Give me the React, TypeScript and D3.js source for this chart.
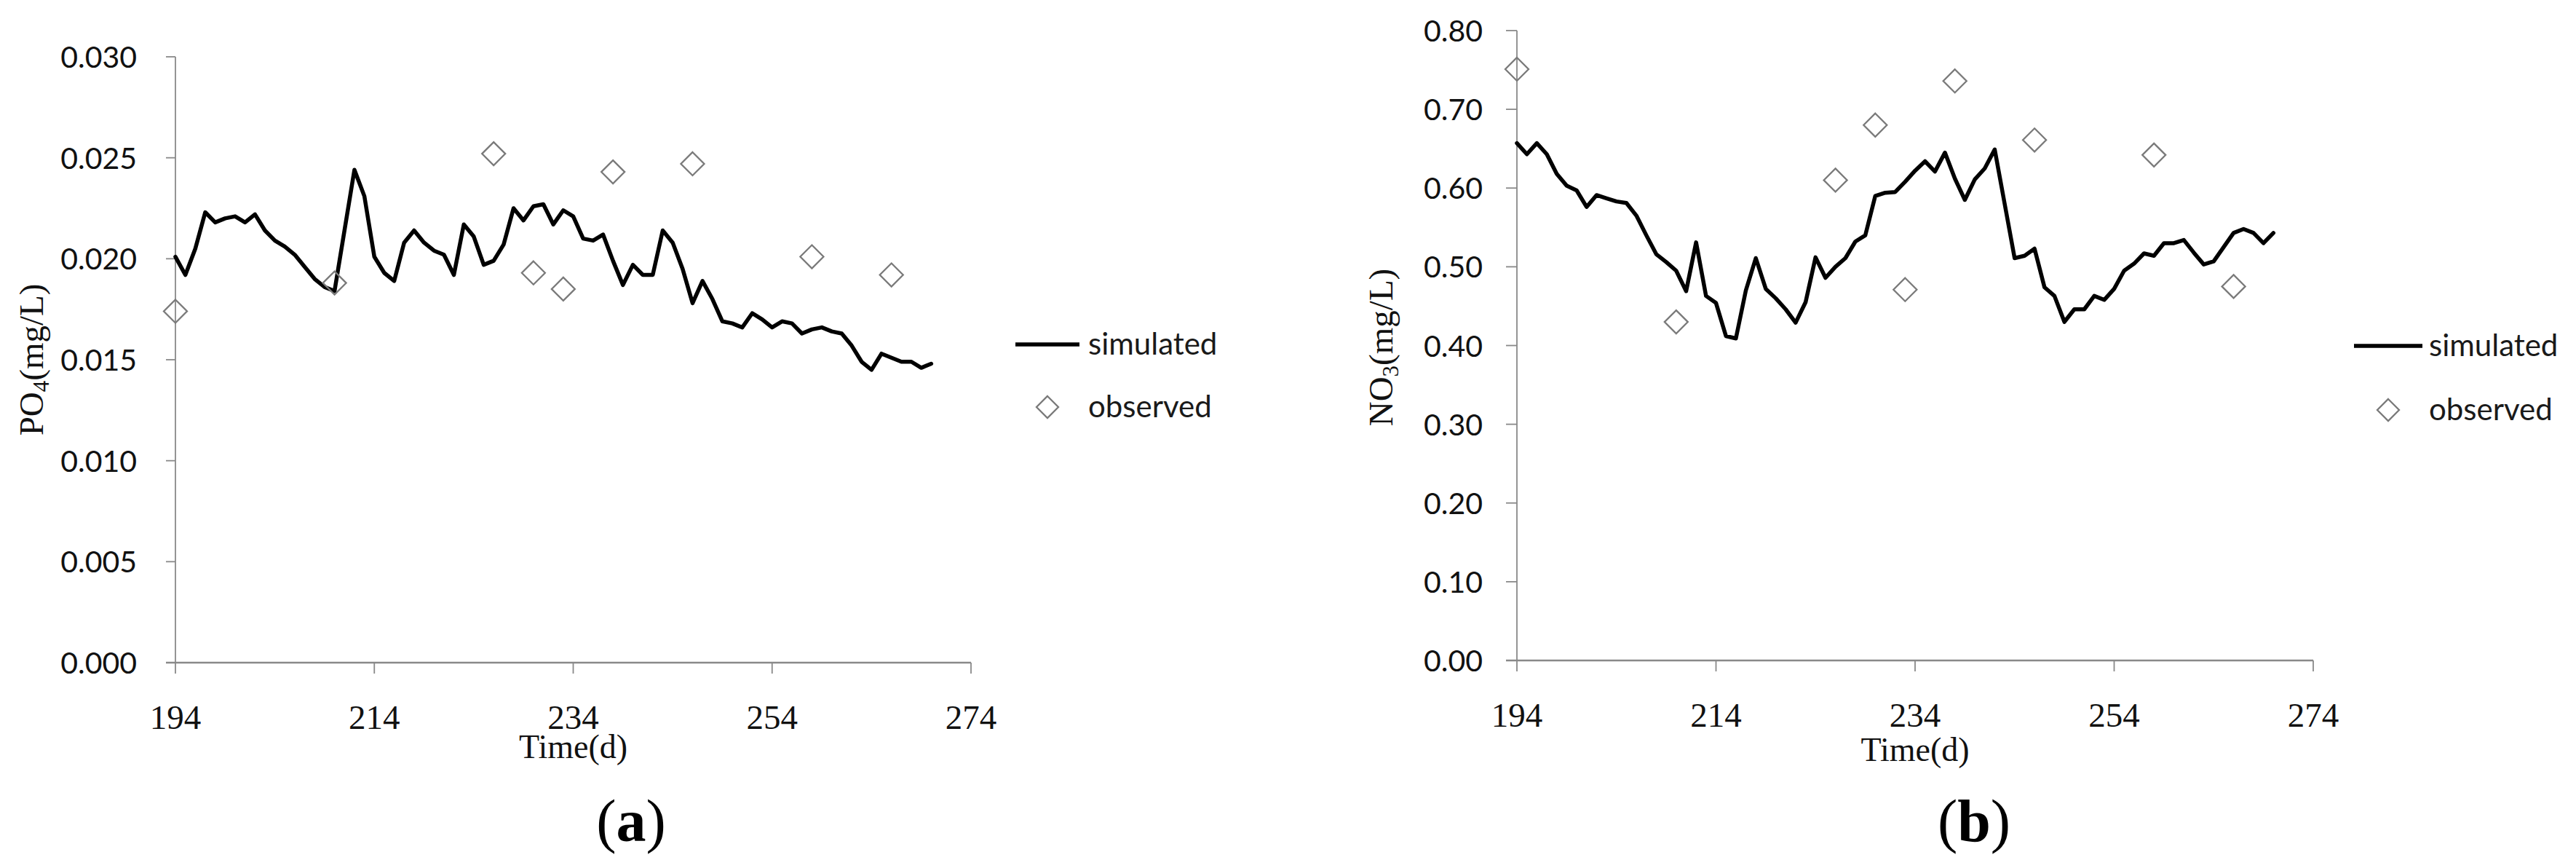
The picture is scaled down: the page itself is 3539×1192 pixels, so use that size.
import React from 'react';
import * as d3 from 'd3';

const simDays = [194,195,196,197,198,199,200,201,202,203,204,205,206,207,208,209,210,211,212,213,214,215,216,217,218,219,220,221,222,223,224,225,226,227,228,229,230,231,232,233,234,235,236,237,238,239,240,241,242,243,244,245,246,247,248,249,250,251,252,253,254,255,256,257,258,259,260,261,262,263,264,265,266,267,268,269,270];

const po4Sim = [0.0201,0.0192,0.0205,0.0223,0.0218,0.0220,0.0221,0.0218,0.0222,0.0214,0.0209,0.0206,0.0202,0.0196,0.0190,0.0186,0.0184,0.0214,0.0244,0.0231,0.0201,0.0193,0.0189,0.0208,0.0214,0.0208,0.0204,0.0202,0.0192,0.0217,0.0211,0.0197,0.0199,0.0207,0.0225,0.0219,0.0226,0.0227,0.0217,0.0224,0.0221,0.0210,0.0209,0.0212,0.0199,0.0187,0.0197,0.0192,0.0192,0.0214,0.0208,0.0195,0.0178,0.0189,0.0180,0.0169,0.0168,0.0166,0.0173,0.0170,0.0166,0.0169,0.0168,0.0163,0.0165,0.0166,0.0164,0.0163,0.0157,0.0149,0.0145,0.0153,0.0151,0.0149,0.0149,0.0146,0.0148];

const no3Sim = [0.657,0.643,0.657,0.643,0.618,0.603,0.597,0.576,0.591,0.587,0.583,0.581,0.565,0.540,0.516,0.506,0.495,0.469,0.531,0.463,0.454,0.412,0.409,0.470,0.511,0.472,0.460,0.446,0.429,0.455,0.512,0.486,0.500,0.511,0.532,0.540,0.590,0.594,0.595,0.608,0.622,0.634,0.621,0.645,0.612,0.585,0.611,0.625,0.649,0.580,0.511,0.514,0.523,0.474,0.463,0.430,0.446,0.446,0.463,0.458,0.472,0.495,0.504,0.517,0.514,0.530,0.530,0.534,0.518,0.503,0.507,0.525,0.543,0.548,0.543,0.530,0.543];

const obsDays = [194, 210, 226, 230, 233, 238, 246, 258, 266];
const po4Obs = [0.0174, 0.0188, 0.0252, 0.0193, 0.0185, 0.0243, 0.0247, 0.0201, 0.0192];
const no3Obs = [0.751, 0.430, 0.610, 0.680, 0.471, 0.736, 0.661, 0.642, 0.475];

const xTicks = [194, 214, 234, 254, 274];
const po4Ticks = [0, 0.005, 0.01, 0.015, 0.02, 0.025, 0.03];
const no3Ticks = [0, 0.1, 0.2, 0.3, 0.4, 0.5, 0.6, 0.7, 0.8];
const legendLabels = ['simulated', 'observed'];
const xTitle = 'Time(d)';
const panelLetters = ['a', 'b'];

const AXIS = '#898989';
const DIAMOND = '#7a7a7a';
const SANS = 'Lato, "Open Sans", sans-serif';
const SERIF = '"Liberation Serif", "DejaVu Serif", serif';

function diamond(cx: number, cy: number, r: number) {
  return `M${cx},${cy - r}L${cx + r},${cy}L${cx},${cy + r}L${cx - r},${cy}Z`;
}

type PanelProps = {
  cfg: any;
  sim: number[];
  obs: number[];
  yMax: number;
  yTicks: number[];
  fmt: string;
  titleMain: string;
  titleSub: string;
  letter: string;
};

function Panel({ cfg, sim, obs, yMax, yTicks, fmt, titleMain, titleSub, letter }: PanelProps) {
  const x = d3.scaleLinear().domain([194, 274]).range([cfg.x0, cfg.x1]);
  const y = d3.scaleLinear().domain([0, yMax]).range([cfg.yBot, cfg.yTop]);
  const f = d3.format(fmt);
  const line = d3.line<number>().x((_, i) => x(simDays[i])).y((d) => y(d));

  return (
    <g>
      {/* y axis */}
      <line x1={cfg.x0} x2={cfg.x0} y1={y(yMax)} y2={cfg.yBot} stroke={AXIS} strokeWidth={1.8} />
      {yTicks.map((t) => (
        <g key={'yt' + t}>
          <line x1={cfg.x0 - cfg.tickLen} x2={cfg.x0} y1={y(t)} y2={y(t)} stroke={AXIS} strokeWidth={1.8} />
          <text x={cfg.x0 - cfg.labelGap} y={y(t) + 15} textAnchor="end" fontFamily={SANS} fontSize={41} fill="#111">
            {f(t)}
          </text>
        </g>
      ))}
      {/* x axis */}
      <line x1={cfg.x0 - cfg.tickLen} x2={x(274)} y1={cfg.yBot} y2={cfg.yBot} stroke={AXIS} strokeWidth={2.6} />
      {xTicks.map((t) => (
        <g key={'xt' + t}>
          <line x1={x(t)} x2={x(t)} y1={cfg.yBot} y2={cfg.yBot + 15} stroke={AXIS} strokeWidth={1.8} />
          <text x={x(t)} y={cfg.yBot + 91} textAnchor="middle" fontFamily={SERIF} fontSize={47} fill="#111">
            {t}
          </text>
        </g>
      ))}
      {/* axis titles */}
      <text x={(cfg.x0 + cfg.x1) / 2} y={cfg.timeBaseline} textAnchor="middle" fontFamily={SERIF} fontSize={46} fill="#111">
        {xTitle}
      </text>
      <text
        transform={`translate(${cfg.titleX},${cfg.titleY}) rotate(-90)`}
        textAnchor="middle"
        fontFamily={SERIF}
        fontSize={47}
        fill="#111"
      >
        {titleMain}
        <tspan fontSize={31} dy={8}>{titleSub}</tspan>
        <tspan dy={-8}>(mg/L)</tspan>
      </text>
      {/* simulated line */}
      <path d={line(sim) || ''} fill="none" stroke="#000" strokeWidth={5.5} strokeLinejoin="round" strokeLinecap="round" />
      {/* observed */}
      {obs.map((v, i) => (
        <path key={'o' + i} d={diamond(x(obsDays[i]), y(v), 16)} fill="none" stroke={DIAMOND} strokeWidth={2.3} />
      ))}
      {/* legend */}
      <line x1={cfg.legX0} x2={cfg.legX1} y1={cfg.legLineY} y2={cfg.legLineY} stroke="#000" strokeWidth={5.5} />
      <text x={cfg.legTextX} y={cfg.legLineY + 14} fontFamily={SANS} fontSize={42} fill="#1a1a1a">
        {legendLabels[0]}
      </text>
      <path d={diamond(cfg.diaX, cfg.diaY, 15)} fill="none" stroke={DIAMOND} strokeWidth={2.3} />
      <text x={cfg.legTextX} y={cfg.diaY + 14} fontFamily={SANS} fontSize={42} fill="#1a1a1a">
        {legendLabels[1]}
      </text>
      {/* panel letter */}
      <text x={cfg.letterX} y={1155} textAnchor="middle" fontFamily={SERIF} fontSize={82} fill="#000">
        (<tspan fontWeight="bold">{letter}</tspan>)
      </text>
    </g>
  );
}

const cfgA = {
  x0: 241, x1: 1334, yTop: 78, yBot: 910, tickLen: 13, labelGap: 53,
  titleX: 59, titleY: 494, timeBaseline: 1041, letterX: 867,
  legX0: 1395, legX1: 1483, legLineY: 473, legTextX: 1495, diaX: 1439, diaY: 559,
};
const cfgB = {
  x0: 2084, x1: 3178, yTop: 42, yBot: 907, tickLen: 15, labelGap: 47,
  titleX: 1913, titleY: 477, timeBaseline: 1045, letterX: 2712,
  legX0: 3234, legX1: 3328, legLineY: 475, legTextX: 3337, diaX: 3281, diaY: 563,
};

export default function App() {
  return (
    <svg
      width={3539}
      height={1192}
      viewBox="0 0 3539 1192"
      style={{ position: 'absolute', left: 0, top: 0, background: '#fff' }}
    >
      <rect x={0} y={0} width={3539} height={1192} fill="#fff" />
      <Panel cfg={cfgA} sim={po4Sim} obs={po4Obs} yMax={0.03} yTicks={po4Ticks} fmt=".3f" titleMain="PO" titleSub="4" letter={panelLetters[0]} />
      <Panel cfg={cfgB} sim={no3Sim} obs={no3Obs} yMax={0.8} yTicks={no3Ticks} fmt=".2f" titleMain="NO" titleSub="3" letter={panelLetters[1]} />
    </svg>
  );
}
